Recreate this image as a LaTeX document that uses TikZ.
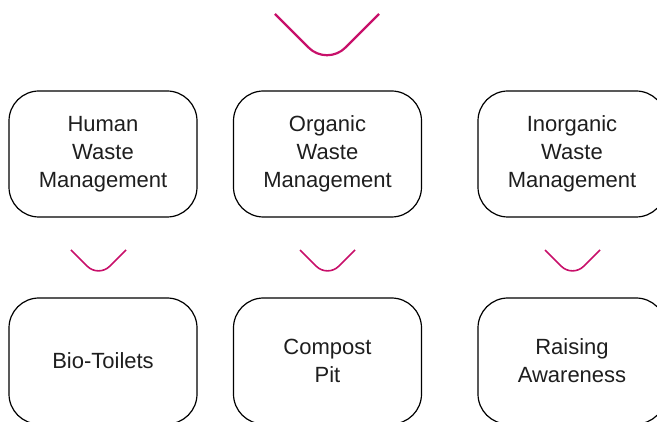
\documentclass[tikz,border=0pt]{standalone}
\usepackage{fontspec}
\setmainfont{Liberation Sans}
\definecolor{chev}{RGB}{200,16,106}
\definecolor{txt}{RGB}{30,30,30}
\begin{document}
\begin{tikzpicture}[x=1pt,y=-1pt,
  box/.style={draw=black, line width=1.2pt, rounded corners=30pt,
    minimum width=188pt, minimum height=126pt, align=center, text=txt,
    font=\fontsize{22}{28}\selectfont, inner sep=0pt},
  bigchev/.style={draw=chev, line width=2.2pt, rounded corners=26pt},
  smallchev/.style={draw=chev, line width=1.6pt, rounded corners=16pt}]
\useasboundingbox (0,0) rectangle (657,422);
\clip (0,0) rectangle (657,422);
% top chevron
\draw[bigchev] (275,14) -- (327,66) -- (379,14);
% top row
\node[box] (hwm) at (103,154) {Human\\Waste\\Management};
\node[box] (owm) at (327.5,154) {Organic\\Waste\\Management};
\node[box] (iwm) at (572,154) {Inorganic\\Waste\\Management};
% small chevrons
\draw[smallchev] (71,250) -- (98.5,277.5) -- (126,250);
\draw[smallchev] (300,250) -- (327.5,277.5) -- (355,250);
\draw[smallchev] (545,250) -- (572.5,277.5) -- (600,250);
% bottom row
\node[box] (bt) at (103,361) {Bio-Toilets};
\node[box] (cp) at (327.5,361) {Compost\\Pit};
\node[box] (ra) at (572,361) {Raising\\Awareness};
\end{tikzpicture}
\end{document}
